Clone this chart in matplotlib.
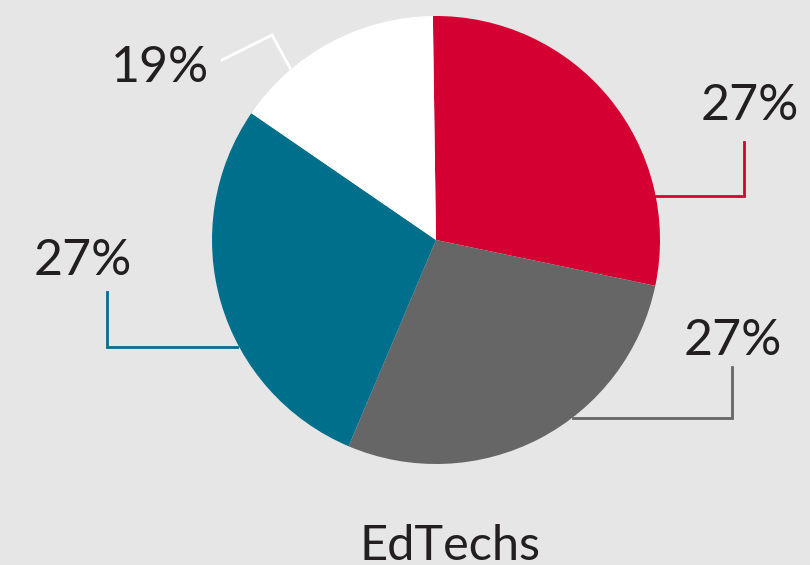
import numpy as np
import matplotlib
matplotlib.use('Agg')
import matplotlib.pyplot as plt

### Pie of EdTechs shares, with elbow leader lines to each label

# data (slice sizes, labels as printed)
slices = ['red', 'gray', 'blue', 'white']
shares = [28.5, 28.1, 28.2, 15.2]
labels = ['27%', '27%', '27%', '19%']
title = 'EdTechs'

colors = ['#d50032', '#666666', '#006f8c', '#ffffff']
bg = '#e6e6e6'

plt.rcParams['font.family'] = ['Lato', 'DejaVu Sans']

W, H = 810, 565
fig = plt.figure(figsize=(W / 100, H / 100), dpi=100, facecolor=bg)
ax = fig.add_axes([0, 0, 1, 1])
ax.set_facecolor(bg)

cx, cy, r = 436, 240, 224

# pie drawn clockwise from the top (y axis is flipped, so counterclock=True reads clockwise)
ax.pie(shares, colors=colors, startangle=-90.8, counterclock=True,
       center=(cx, cy), radius=r, frame=True,
       wedgeprops=dict(linewidth=0))
ax.set_xlim(0, W)
ax.set_ylim(H, 0)
ax.set_aspect('equal')
ax.axis('off')

# leader lines: list of (x, y) points, then label anchor
leaders = [
    [(655, 196), (744, 196), (744, 142)],
    [(573, 418), (732, 418), (732, 367)],
    [(237, 347), (107, 347), (107, 292)],
    [(290, 68), (272, 35), (222, 60)],
]
label_pos = [(750, 106), (733, 341), (83, 261), (160, 68)]
line_colors = ['#d50032', '#666666', '#006f8c', '#ffffff']

for pts, lc in zip(leaders, line_colors):
    xs = [p[0] for p in pts]
    ys = [p[1] for p in pts]
    ax.plot(xs, ys, color=lc, lw=2, solid_joinstyle='miter')

for (x, y), lab in zip(label_pos, labels):
    ax.text(x, y, lab, fontsize=36, color='#231f20', ha='center', va='center')

ax.text(450, 546, title, fontsize=35, color='#231f20', ha='center', va='center')

plt.savefig('out.png', dpi=100, facecolor=bg)
